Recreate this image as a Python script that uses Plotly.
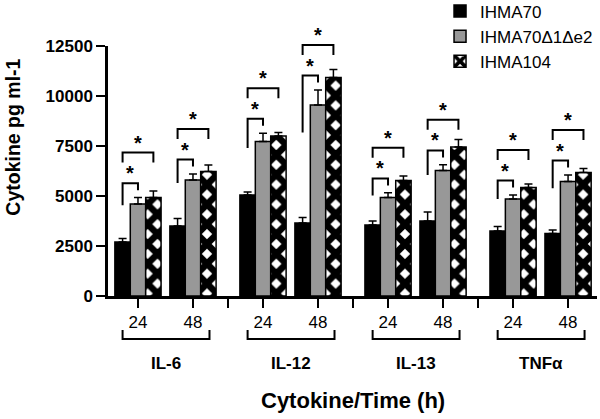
import plotly.graph_objects as go

# ---------------- data ----------------
cytokines = ["IL-6", "IL-12", "IL-13", "TNFα"]
times = ["24", "48"]
series_names = ["IHMA70", "IHMA70Δ1Δe2", "IHMA104"]

ihma70 = [2700, 3500, 5050, 3650, 3550, 3750, 3250, 3130]
ihma70_err = [170, 380, 150, 270, 200, 450, 220, 170]
mutant = [4600, 5800, 7720, 9550, 4930, 6280, 4850, 5720]
mutant_err = [320, 300, 420, 750, 230, 280, 200, 330]
ihma104 = [4920, 6220, 8000, 10930, 5780, 7450, 5420, 6180]
ihma104_err = [330, 330, 180, 400, 220, 380, 180, 200]

y_ticks = [0, 2500, 5000, 7500, 10000, 12500]
y_tick_labels = ["0", "2500", "5000", "7500", "10000", "12500"]

# ---------------- layout helpers ----------------
GROUP_STEP = 2.273
BAR_W = 0.28
Y_MAX = 12500
x_pos = [g * GROUP_STEP + t for g in range(len(cytokines)) for t in range(len(times))]
sep_pos = [g * GROUP_STEP + 1 + (GROUP_STEP - 1) / 2 for g in range(len(cytokines) - 1)]
offsets = [-1.5 * BAR_W, -0.5 * BAR_W, 0.5 * BAR_W]
centers = [o + BAR_W / 2 for o in offsets]

FONT = "Liberation Sans, Arial, sans-serif"

def py(v):
    return v / Y_MAX

fig = go.Figure()

styles = [
    dict(color="black"),
    dict(color="#989898"),
    dict(color="#000000", pattern=dict(shape="x", fgcolor="#000000", bgcolor="#ffffff",
                                       fgopacity=1, size=14, solidity=0.72,
                                       fillmode="replace")),
]
values = [ihma70, mutant, ihma104]
errors = [ihma70_err, mutant_err, ihma104_err]

for i in range(3):
    fig.add_trace(go.Bar(
        x=x_pos, y=values[i], name=series_names[i],
        width=BAR_W, offset=offsets[i],
        marker=dict(**styles[i], line=dict(color="black", width=1.5)),
        error_y=dict(type="data", symmetric=False, array=errors[i],
                     arrayminus=[0] * len(errors[i]),
                     color="black", thickness=1.5, width=4),
    ))

shapes = []
annotations = []
line_style = dict(color="black", width=2)
for k, xc in enumerate(x_pos):
    top70 = ihma70[k] + ihma70_err[k]
    topmut = mutant[k] + mutant_err[k]
    low = max(top70, topmut) + 720
    high = low + 1530
    leg_bottom = 0.6 * low + 0.4 * top70
    xl = xc + centers[0]
    xm = xc + centers[1]
    xr = xc + centers[2]
    # lower bracket
    shapes.append(dict(type="path", xref="x", yref="paper",
                       path=f"M{xl},{py(leg_bottom)} L{xl},{py(low)} L{xm},{py(low)} L{xm},{py(low - 350)}",
                       line=line_style))
    # upper bracket
    shapes.append(dict(type="path", xref="x", yref="paper",
                       path=f"M{xl},{py(high - 500)} L{xl},{py(high)} L{xr},{py(high)} L{xr},{py(high - 500)}",
                       line=line_style))
    for xa, ya in [((xl + xm) / 2, low), ((xl + xr) / 2, high)]:
        annotations.append(dict(x=xa, y=py(ya), xref="x", yref="paper", text="*",
                                showarrow=False, yanchor="bottom", yshift=-3,
                                font=dict(family=FONT, size=20, color="black", weight="bold")))

# group brackets and labels under the axis
for g, name in enumerate(cytokines):
    x0 = x_pos[2 * g] - 0.28
    x1 = x_pos[2 * g + 1] + 0.30
    yb = -0.172
    yt = -0.136
    shapes.append(dict(type="path", xref="x", yref="paper",
                       path=f"M{x0},{yt} L{x0},{yb} L{x1},{yb} L{x1},{yt}",
                       line=line_style))
    annotations.append(dict(x=(x0 + x1) / 2, y=-0.269, xref="x", yref="paper",
                            text=name, showarrow=False, yanchor="middle",
                            font=dict(family=FONT, size=17, color="black", weight="bold")))

annotations.append(dict(x=0.5, y=-0.417, xref="paper", yref="paper",
                        text="Cytokine/Time (h)", showarrow=False, yanchor="middle",
                        font=dict(family=FONT, size=22, color="black", weight="bold")))
annotations.append(dict(x=-0.196, y=0.634, xref="paper", yref="paper",
                        text="Cytokine pg ml-1", showarrow=False, textangle=-90,
                        xanchor="center", yanchor="middle",
                        font=dict(family=FONT, size=19.5, color="black", weight="bold")))

tickvals = x_pos + sep_pos
ticktext = [times[k % 2] for k in range(len(x_pos))] + [""] * len(sep_pos)

fig.update_layout(
    width=600, height=419,
    margin=dict(l=108, r=3, t=46, b=123, autoexpand=False),
    plot_bgcolor="white", paper_bgcolor="white",
    barmode="group",
    showlegend=True,
    legend=dict(x=0.679, y=1.21, xanchor="left", yanchor="top",
                bgcolor="rgba(0,0,0,0)",
                font=dict(family=FONT, size=17, color="black")),
    shapes=shapes,
    annotations=annotations,
    font=dict(family=FONT, color="black"),
)
fig.update_xaxes(range=[-0.545, 8.345], tickvals=tickvals, ticktext=ticktext,
                 showline=True, linecolor="black", linewidth=2.5,
                 ticks="outside", ticklen=9, tickwidth=2, tickcolor="black",
                 showgrid=False, zeroline=False,
                 tickfont=dict(family=FONT, size=17, color="black"))
fig.update_yaxes(range=[0, Y_MAX], tickvals=y_ticks, ticktext=y_tick_labels,
                 showline=True, linecolor="black", linewidth=2.5,
                 ticks="outside", ticklen=9, tickwidth=2, tickcolor="black",
                 showgrid=False, zeroline=False,
                 tickfont=dict(family=FONT, size=17, color="black", weight="bold"))

fig.write_html("out.html", config={"displayModeBar": False},
               post_script="document.body.style.margin='0';document.body.style.padding='0';")
